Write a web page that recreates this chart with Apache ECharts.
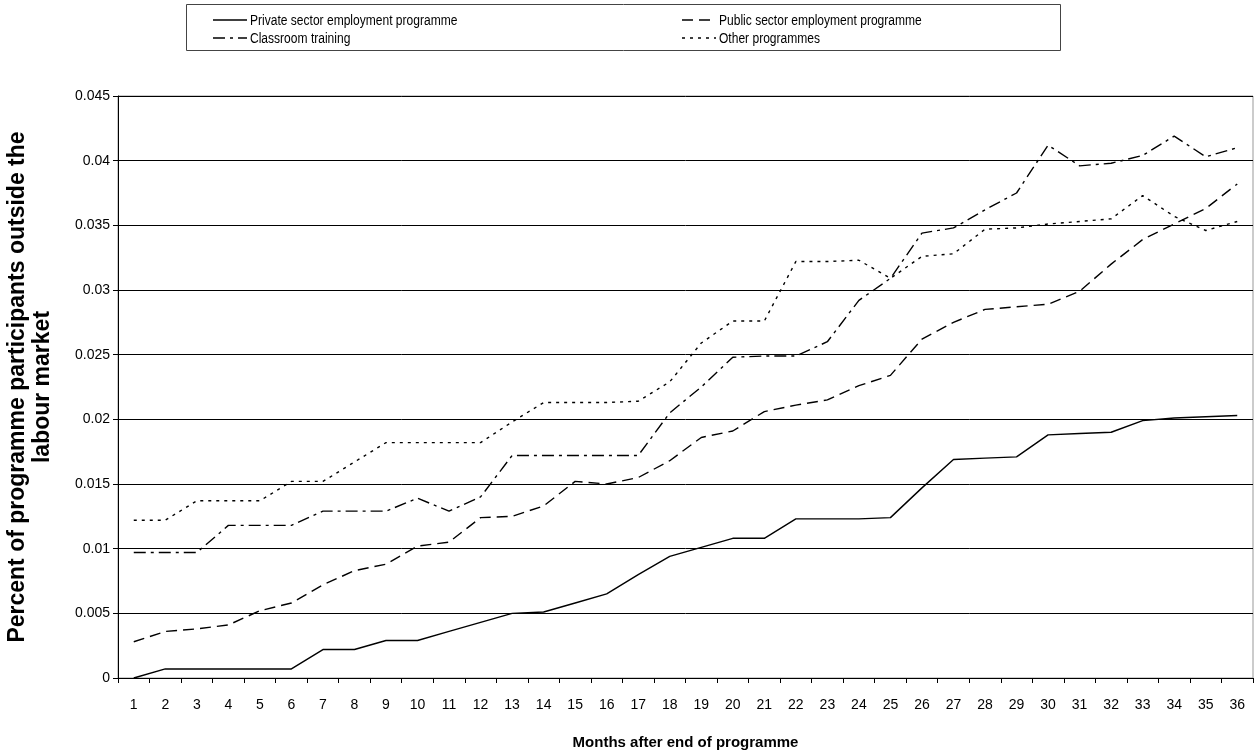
<!DOCTYPE html>
<html><head><meta charset="utf-8">
<script src="https://cdn.jsdelivr.net/npm/echarts@6/dist/echarts.min.js"></script>
<style>html,body{margin:0;padding:0;background:#fff}#c{width:1258px;height:753px}</style>
</head><body><div id="c"></div>
<script>
const months = ['1','2','3','4','5','6','7','8','9','10','11','12','13','14','15','16','17','18','19','20','21','22','23','24','25','26','27','28','29','30','31','32','33','34','35','36'];
const privateSector = [0,0.0007,0.0007,0.0007,0.0007,0.0007,0.0022,0.0022,0.0029,0.0029,0.0036,0.0043,0.0050,0.0051,0.0058,0.0065,0.0080,0.0094,0.0101,0.0108,0.0108,0.0123,0.0123,0.0123,0.0124,0.0147,0.0169,0.0170,0.0171,0.0188,0.0189,0.0190,0.0199,0.0201,0.0202,0.0203];
const publicSector = [0.0028,0.0036,0.0038,0.0041,0.0052,0.0058,0.0072,0.0083,0.0088,0.0102,0.0105,0.0124,0.0125,0.0133,0.0152,0.0150,0.0155,0.0168,0.0186,0.0191,0.0206,0.0211,0.0215,0.0226,0.0234,0.0262,0.0275,0.0285,0.0287,0.0289,0.0299,0.0320,0.0339,0.0351,0.0363,0.0382];
const classroom = [0.0097,0.0097,0.0097,0.0118,0.0118,0.0118,0.0129,0.0129,0.0129,0.0139,0.0129,0.0140,0.0172,0.0172,0.0172,0.0172,0.0172,0.0205,0.0225,0.0248,0.0249,0.0249,0.0260,0.0292,0.0309,0.0344,0.0348,0.0362,0.0375,0.0412,0.0396,0.0398,0.0404,0.0419,0.0403,0.0410];
const other = [0.0122,0.0122,0.0137,0.0137,0.0137,0.0152,0.0152,0.0167,0.0182,0.0182,0.0182,0.0182,0.0198,0.0213,0.0213,0.0213,0.0214,0.0229,0.0259,0.0276,0.0276,0.0322,0.0322,0.0323,0.0309,0.0326,0.0328,0.0347,0.0348,0.0351,0.0353,0.0355,0.0373,0.0357,0.0346,0.0353];
const names = ['Private sector employment programme','Public sector employment programme','Classroom training','Other programmes'];
const yTicks = {min:0, max:0.045, interval:0.005};

const font = 'Liberation Sans, Arial, sans-serif';
const dashes = ['solid', [11,6], [12,5,3,5], [3,5]];
const chart = echarts.init(document.getElementById('c'), null, {renderer:'canvas'});

// legend drawn as graphic (sample line + text) in a 2x2 layout
const legendPos = [[213,20],[682,20],[213,38],[682,38]];
const legendGraphics = [{type:'rect', left:186, top:4, shape:{width:874, height:46}, style:{fill:'#fff', stroke:'#444', lineWidth:1}, z:10}];
names.forEach(function(n,i){
  const p = legendPos[i];
  legendGraphics.push({type:'line', shape:{x1:p[0], y1:p[1], x2:p[0]+34, y2:p[1]},
    style:{stroke:'#000', lineWidth:1.5, lineDash: dashes[i]==='solid'?null:dashes[i]}, z:11});
  legendGraphics.push({type:'text', x:p[0]+37, y:p[1]+1, scaleX:0.86, scaleY:1,
    style:{text:n, fill:'#000', font:'14px '+font, textVerticalAlign:'middle', verticalAlign:'middle'}, z:11});
});

function mk(name, data, type){
  return {name:name, type:'line', data:data, showSymbol:false, symbol:'none', animation:false,
    lineStyle:{color:'#000', width:1.4, type:type}, itemStyle:{color:'#000'}};
}
chart.setOption({
  backgroundColor:'#fff',
  animation:false,
  grid:{left:118, right:5, top:96, bottom:75, show:true, borderColor:'#999', borderWidth:1, containLabel:false, outerBoundsMode:'none'},
  graphic:legendGraphics,
  xAxis:{type:'category', data:months, boundaryGap:true,
    name:'Months after end of programme', nameLocation:'middle', nameGap:57,
    nameTextStyle:{fontFamily:font, fontSize:15, fontWeight:'bold', color:'#000'},
    axisLine:{lineStyle:{color:'#000', width:1}},
    axisTick:{show:true, length:5, lineStyle:{color:'#000'}},
    axisLabel:{fontFamily:font, fontSize:14, color:'#000', margin:20, interval:0},
    splitLine:{show:false}},
  yAxis:{type:'value', min:yTicks.min, max:yTicks.max, interval:yTicks.interval,
    name:'Percent of programme participants outside the\nlabour market', nameLocation:'middle', nameGap:63, nameRotate:90,
    nameTextStyle:{fontFamily:font, fontSize:23, fontWeight:'bold', color:'#000', lineHeight:25, align:'center'},
    axisLine:{show:true, lineStyle:{color:'#000', width:1}},
    axisTick:{show:true, length:5, lineStyle:{color:'#000'}},
    axisLabel:{fontFamily:font, fontSize:14, color:'#000', margin:8},
    splitLine:{show:true, lineStyle:{color:'#000', width:1}}},
  series:[
    mk(names[0], privateSector, dashes[0]),
    mk(names[1], publicSector, dashes[1]),
    mk(names[2], classroom, dashes[2]),
    mk(names[3], other, dashes[3])
  ]
});
</script></body></html>
